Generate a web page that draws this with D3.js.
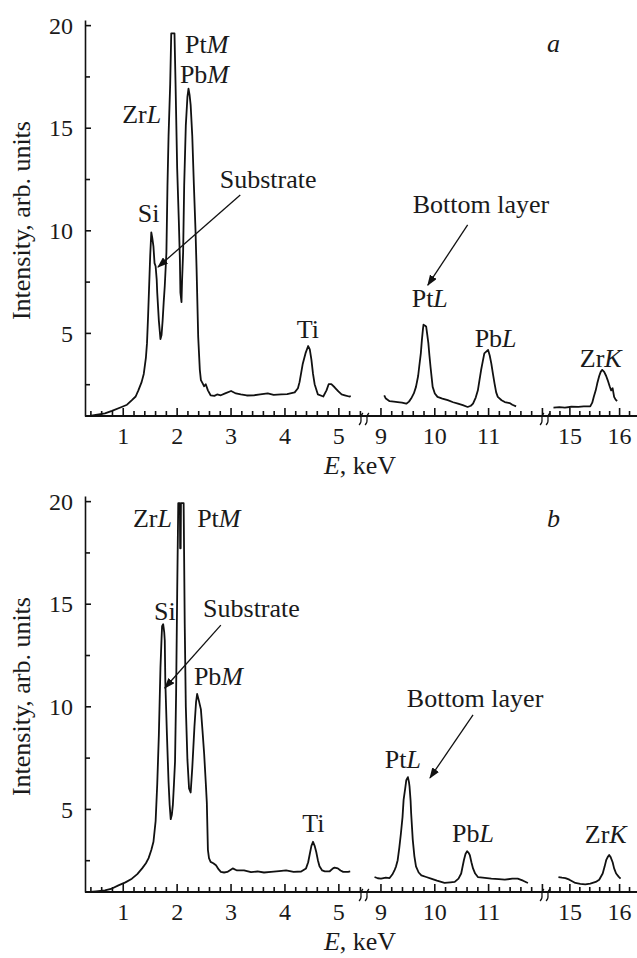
<!DOCTYPE html>
<meta charset="utf-8">
<style>
body { margin: 0; background: white; }
svg { font-family: "Liberation Serif", "Times New Roman", serif; }
.axis path, .axis line { stroke: #111; stroke-width: 1.6; fill: none; }
.axis text { font-family: "Liberation Serif", serif; font-size: 24px; fill: #1a1a1a; }
.xline { stroke: #111; stroke-width: 2; }
.spec { fill: none; stroke: #111; stroke-width: 1.8; stroke-linejoin: round; }
.lbl { font-size: 26px; fill: #1a1a1a; }
.brk { fill: none; stroke: #111; stroke-width: 1.2; }
.arrow { stroke: #111; stroke-width: 1.3; }
</style>
<svg width="637" height="958"></svg>
<script src="https://d3js.org/d3.v7.min.js"></script>
<script>
// broken energy axis: three pieces
var segDomains = [[0.3, 5.42], [8.75, 12.02], [14.55, 16.36]];
var segRanges = [[85, 361], [367, 543], [547, 637]];
var majorTicks = [[1, 2, 3, 4, 5], [9, 10, 11], [15, 16]];
var minorStart = [0.4, 9.0, 14.6];
var yMajor = [5, 10, 15, 20];
var yMinor = [2.5, 7.5, 12.5, 17.5];

// spectrum a, [E keV, intensity]
var specA1 = [[0.39,0.95],[0.5,1.0],[0.67,1.08],[0.8,1.2],[0.98,1.39],[1.08,1.5],[1.17,1.72],[1.24,1.9],[1.29,2.2],[1.35,2.6],[1.39,3.0],[1.43,3.8],[1.45,4.5],[1.47,5.8],[1.49,7.3],[1.51,8.8],[1.53,9.9],[1.55,9.6],[1.57,9.2],[1.59,8.4],[1.61,8.25],[1.63,7.6],[1.64,6.96],[1.67,5.6],[1.70,4.7],[1.72,4.9],[1.74,5.6],[1.76,6.5],[1.78,7.3],[1.81,8.9],[1.83,12.2],[1.85,14.6],[1.88,17.1],[1.90,19.6],[1.96,19.6],[1.98,17.1],[2.01,13.0],[2.04,10.5],[2.06,8.6],[2.07,6.96],[2.09,6.5],[2.10,7.5],[2.12,8.9],[2.14,12.2],[2.17,15.1],[2.20,16.5],[2.22,16.9],[2.24,16.6],[2.26,16.1],[2.29,14.6],[2.32,12.2],[2.35,10],[2.37,8.1],[2.40,4.8],[2.43,3.2],[2.45,2.7],[2.48,2.55],[2.51,2.4],[2.54,2.5],[2.58,2.2],[2.63,1.96],[2.7,1.93],[2.75,2.0],[2.82,1.96],[2.9,2.05],[3.01,2.17],[3.1,2.05],[3.19,2.0],[3.3,1.95],[3.43,1.96],[3.55,2.0],[3.69,2.05],[3.8,1.98],[3.94,2.0],[4.05,2.02],[4.19,2.1],[4.25,2.3],[4.28,2.6],[4.34,3.5],[4.39,4.0],[4.44,4.36],[4.47,4.2],[4.50,3.7],[4.53,3.0],[4.56,2.5],[4.62,2.0],[4.72,1.9],[4.78,2.2],[4.82,2.5],[4.87,2.5],[4.93,2.35],[5.0,2.15],[5.06,2.0],[5.12,1.96],[5.2,1.9],[5.23,1.92]];
var specA2 = [[9.07,1.96],[9.1,1.8],[9.17,1.67],[9.25,1.65],[9.32,1.63],[9.4,1.6],[9.48,1.55],[9.53,1.65],[9.57,1.8],[9.62,2.05],[9.66,2.37],[9.70,2.9],[9.72,3.35],[9.75,4.0],[9.77,4.66],[9.79,5.2],[9.80,5.4],[9.83,5.35],[9.85,5.3],[9.87,4.9],[9.89,4.5],[9.91,3.9],[9.93,3.35],[9.97,2.37],[10.01,2.05],[10.06,1.88],[10.15,1.8],[10.25,1.72],[10.35,1.62],[10.44,1.55],[10.53,1.48],[10.62,1.39],[10.68,1.45],[10.72,1.55],[10.77,1.85],[10.81,2.2],[10.84,2.7],[10.87,3.19],[10.9,3.6],[10.93,4.0],[11.0,4.17],[11.03,3.9],[11.06,3.5],[11.09,3.0],[11.12,2.53],[11.15,2.1],[11.18,1.88],[11.25,1.72],[11.31,1.63],[11.4,1.58],[11.45,1.5],[11.52,1.42]];
var specA3 = [[14.68,1.36],[14.8,1.38],[14.91,1.36],[15.04,1.4],[15.18,1.39],[15.29,1.42],[15.42,1.42],[15.46,1.6],[15.49,1.88],[15.53,2.2],[15.56,2.53],[15.6,2.9],[15.63,3.1],[15.66,3.2],[15.7,3.1],[15.74,2.9],[15.77,2.7],[15.81,2.4],[15.84,2.2],[15.87,2.3],[15.9,1.88],[15.93,1.75],[15.96,1.68]];

// spectrum b
var specB1 = [[0.39,0.95],[0.5,0.98],[0.67,1.03],[0.8,1.12],[0.92,1.27],[1.05,1.42],[1.17,1.6],[1.27,1.82],[1.36,2.1],[1.43,2.35],[1.48,2.6],[1.53,3.0],[1.57,3.4],[1.61,4.4],[1.64,6.2],[1.67,8.6],[1.70,11.9],[1.72,13.3],[1.73,13.9],[1.75,14.0],[1.77,13.6],[1.78,13.2],[1.79,11.2],[1.82,8.6],[1.85,6.3],[1.87,5.2],[1.89,4.5],[1.91,4.7],[1.93,5.2],[1.95,6.2],[1.97,7.3],[1.99,10.6],[2.01,15.5],[2.03,19.9],[2.06,19.9],[2.065,17.7],[2.075,17.7],[2.08,19.9],[2.13,19.9],[2.15,14.0],[2.17,10.0],[2.20,7.4],[2.23,6.0],[2.26,5.8],[2.29,7.0],[2.33,9.0],[2.36,10.2],[2.38,10.6],[2.41,10.3],[2.45,9.85],[2.48,8.8],[2.51,7.7],[2.54,6.3],[2.56,5.3],[2.58,3.0],[2.60,2.6],[2.63,2.42],[2.68,2.35],[2.73,2.25],[2.78,2.05],[2.82,1.93],[2.88,1.9],[2.94,1.93],[3.04,2.1],[3.12,2.0],[3.25,2.0],[3.38,1.92],[3.5,1.95],[3.62,1.9],[3.75,1.93],[3.9,1.97],[4.03,2.0],[4.17,1.93],[4.31,1.95],[4.40,2.1],[4.44,2.4],[4.47,2.8],[4.50,3.2],[4.53,3.4],[4.56,3.2],[4.59,2.9],[4.62,2.5],[4.65,2.2],[4.70,2.0],[4.75,1.96],[4.84,1.96],[4.9,2.1],[4.93,2.14],[4.99,2.1],[5.04,2.0],[5.09,1.93],[5.18,1.93],[5.22,1.95]];
var specB2 = [[8.89,1.68],[8.95,1.62],[9.01,1.6],[9.1,1.65],[9.17,1.63],[9.22,1.8],[9.26,2.0],[9.29,2.2],[9.32,2.5],[9.35,3.1],[9.38,3.8],[9.41,4.6],[9.43,5.44],[9.46,6.0],[9.48,6.4],[9.51,6.55],[9.53,6.3],[9.54,6.1],[9.56,5.4],[9.57,4.8],[9.60,3.5],[9.63,2.7],[9.66,2.2],[9.71,1.9],[9.76,1.76],[9.85,1.68],[9.94,1.6],[10.05,1.5],[10.19,1.39],[10.3,1.42],[10.38,1.44],[10.45,1.6],[10.5,1.85],[10.55,2.5],[10.58,2.8],[10.61,2.94],[10.64,2.85],[10.66,2.75],[10.69,2.4],[10.72,2.1],[10.76,1.85],[10.81,1.68],[10.9,1.65],[11.06,1.6],[11.2,1.58],[11.31,1.55],[11.45,1.6],[11.55,1.6],[11.65,1.5],[11.74,1.39]];
var specB3 = [[14.78,1.68],[14.85,1.65],[14.92,1.63],[15.0,1.55],[15.12,1.39],[15.22,1.35],[15.32,1.32],[15.42,1.36],[15.53,1.44],[15.6,1.55],[15.67,1.85],[15.71,2.2],[15.74,2.5],[15.77,2.65],[15.8,2.75],[15.83,2.65],[15.87,2.4],[15.9,2.1],[15.94,1.85],[15.99,1.7],[16.03,1.6]];

// peak labels: [segment, E, intensity, plain part, italic part]
var labelsA = [[0,2.155,18.64,"Pt","M"],[0,2.06,17.18,"Pb","M"],[0,0.99,15.23,"Zr","L"],[0,1.28,10.4,"Si",""],[0,2.8,12.06,"Substrate",""],[0,4.23,4.75,"Ti",""],[1,9.6,10.84,"Bottom layer",""],[1,9.58,6.26,"Pt","L"],[1,10.75,4.31,"Pb","L"],[2,15.21,3.34,"Zr","K"],[2,14.55,18.69,"","a"]];
var labelsB = [[0,1.19,18.74,"Zr","L"],[0,2.38,18.74,"Pt","M"],[0,1.58,14.2,"Si",""],[0,2.49,14.35,"Substrate",""],[0,2.32,11.04,"Pb","M"],[0,4.33,3.87,"Ti",""],[2,14.55,18.74,"","b"],[1,9.49,9.97,"Bottom layer",""],[1,9.08,6.99,"Pt","L"],[1,10.33,3.39,"Pb","L"],[2,15.31,3.34,"Zr","K"]];
// arrows: [segment, E from, I from, E to, I to]
var arrowsA = [[0,3.18,11.72,1.654,8.21],[1,10.62,10.26,9.88,7.33]];
var arrowsB = [[0,2.82,13.96,1.78,10.89],[1,10.72,9.58,9.92,6.51]];

var svg = d3.select("svg");

svg.append("defs").append("marker")
    .attr("id", "head")
    .attr("markerUnits", "userSpaceOnUse")
    .attr("markerWidth", 11).attr("markerHeight", 8)
    .attr("refX", 10).attr("refY", 4)
    .attr("orient", "auto")
  .append("path")
    .attr("d", "M0,0 L11,4 L0,8 z")
    .attr("fill", "#111");

var xs = segDomains.map(function(d, i) {
  return d3.scaleLinear().domain(d).range(segRanges[i]);
});

function drawPanel(top, bottom, specs, labels, arrows, id) {
  var y = d3.scaleLinear().domain([0.95, 20.25]).range([bottom, top]);
  var g = svg.append("g");

  g.append("clipPath").attr("id", "clip" + id)
    .append("rect")
    .attr("x", segRanges[0][0]).attr("y", top)
    .attr("width", 637 - segRanges[0][0]).attr("height", bottom - top);

  // y axis
  g.append("g").attr("class", "axis")
      .attr("transform", "translate(" + segRanges[0][0] + ",0)")
      .call(d3.axisLeft(y).tickValues(yMajor).tickFormat(d3.format("d")).tickSizeInner(-6).tickSizeOuter(0).tickPadding(12))
      .call(function(a) { a.selectAll("text").attr("dy", "0.34em"); });
  g.append("g").attr("class", "axis")
      .attr("transform", "translate(" + segRanges[0][0] + ",0)")
      .call(d3.axisLeft(y).tickValues(yMinor).tickSizeInner(-5).tickSizeOuter(0).tickFormat(""))
      .call(function(a) { a.select(".domain").remove(); });

  // x axis line
  g.append("line").attr("class", "xline")
      .attr("x1", segRanges[0][0]).attr("x2", 637)
      .attr("y1", bottom).attr("y2", bottom);

  xs.forEach(function(x, i) {
    var minor = d3.range(minorStart[i], segDomains[i][1] + 1e-6, 0.2)
      .filter(function(v) { return Math.abs(v - Math.round(v)) > 0.01; });
    g.append("g").attr("class", "axis")
        .attr("transform", "translate(0," + bottom + ")")
        .call(d3.axisBottom(x).tickValues(majorTicks[i]).tickFormat(d3.format("d")).tickSizeInner(-8).tickSizeOuter(0).tickPadding(11))
        .call(function(a) { a.select(".domain").remove(); });
    g.append("g").attr("class", "axis")
        .attr("transform", "translate(0," + bottom + ")")
        .call(d3.axisBottom(x).tickValues(minor).tickSizeInner(-5).tickSizeOuter(0).tickFormat(""))
        .call(function(a) { a.select(".domain").remove(); });
  });
  // unlabelled integer tick at 12 keV
  g.append("g").attr("class", "axis")
      .attr("transform", "translate(0," + bottom + ")")
      .call(d3.axisBottom(xs[1]).tickValues([12]).tickSizeInner(-8).tickSizeOuter(0).tickFormat(""))
      .call(function(a) { a.select(".domain").remove(); });

  // axis break marks
  for (var i = 0; i < segRanges.length - 1; i++) {
    var cx = (segRanges[i][1] + segRanges[i + 1][0]) / 2;
    [-3, 3].forEach(function(dx) {
      var x0 = cx + dx, y0 = bottom + 3;
      g.append("path").attr("class", "brk")
        .attr("d", "M" + (x0 - 2) + "," + (y0 + 6) + " C" + (x0 + 3) + "," + (y0 + 2) + " " + (x0 - 3) + "," + (y0 - 2) + " " + (x0 + 2) + "," + (y0 - 6));
    });
  }

  // spectrum
  specs.forEach(function(s, i) {
    var line = d3.line()
      .x(function(d) { return xs[i](d[0]); })
      .y(function(d) { return y(d[1]); });
    g.append("path").datum(s)
      .attr("class", "spec")
      .attr("clip-path", "url(#clip" + id + ")")
      .attr("d", line);
  });

  // labels
  labels.forEach(function(l) {
    var t = g.append("text").attr("class", "lbl")
      .attr("x", xs[l[0]](l[1])).attr("y", y(l[2]));
    if (l[3]) t.append("tspan").text(l[3]);
    if (l[4]) t.append("tspan").attr("font-style", "italic").text(l[4]);
  });

  arrows.forEach(function(a) {
    var x = xs[a[0]];
    g.append("line").attr("class", "arrow")
      .attr("x1", x(a[1])).attr("y1", y(a[2]))
      .attr("x2", x(a[3])).attr("y2", y(a[4]))
      .attr("marker-end", "url(#head)");
  });

  // axis titles
  g.append("text").attr("class", "lbl")
    .attr("text-anchor", "middle")
    .attr("transform", "translate(30," + ((y(20) + y(0.95)) / 2) + ") rotate(-90)")
    .text("Intensity, arb. units");
  var et = g.append("text").attr("class", "lbl")
    .attr("text-anchor", "middle")
    .attr("x", 360).attr("y", bottom + 58);
  et.append("tspan").attr("font-style", "italic").text("E");
  et.append("tspan").text(", keV");
}

drawPanel(20, 416, [specA1, specA2, specA3], labelsA, arrowsA, "a");
drawPanel(496, 892, [specB1, specB2, specB3], labelsB, arrowsB, "b");
</script>
